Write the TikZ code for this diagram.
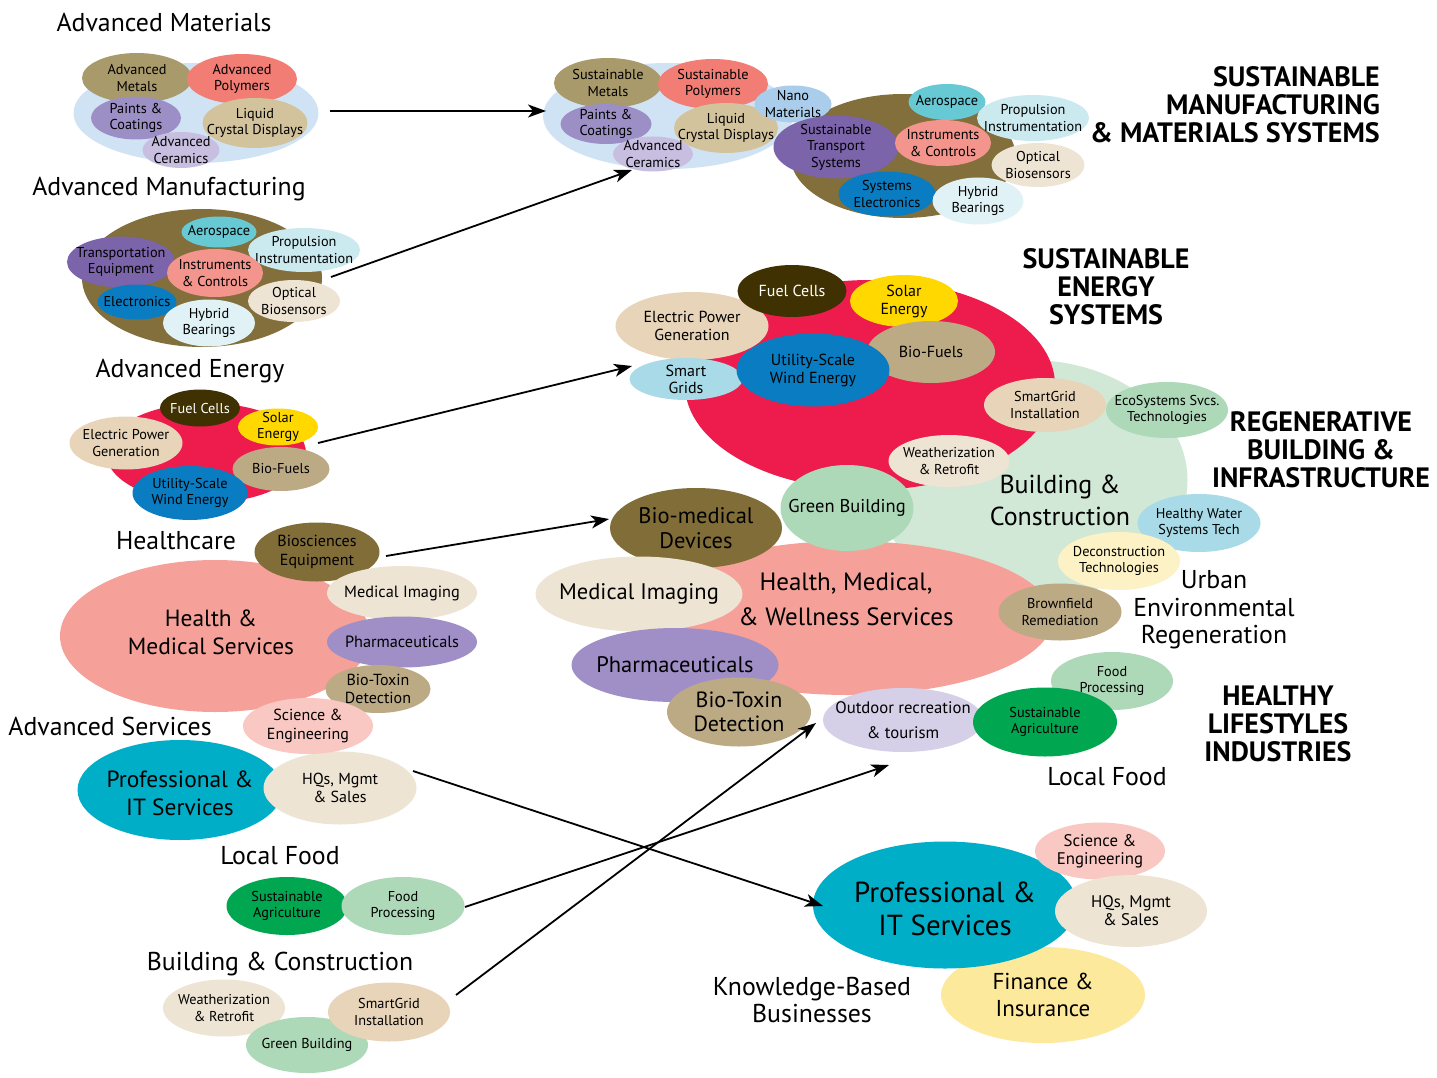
\documentclass[tikz,border=0pt]{standalone}
\usepackage{fontspec}
\setmainfont{PT Sans}
\usetikzlibrary{shapes.geometric,arrows.meta}
\definecolor{cBg}{HTML}{D0E3F4}
\definecolor{cKhaki}{HTML}{A99A6B}
\definecolor{cSalmon}{HTML}{F27D75}
\definecolor{cPurple}{HTML}{9C8FC5}
\definecolor{cTan}{HTML}{D2C39C}
\definecolor{cLPurple}{HTML}{C8BFE0}
\definecolor{cBrown}{HTML}{826F3B}
\definecolor{cTeal}{HTML}{66C9D4}
\definecolor{cPale}{HTML}{CBEAF0}
\definecolor{cViolet}{HTML}{7B64AA}
\definecolor{cPink}{HTML}{F3958D}
\definecolor{cBlue}{HTML}{0A7CC1}
\definecolor{cIce}{HTML}{E1F2F7}
\definecolor{cCream}{HTML}{EEE4D3}
\definecolor{cRed}{HTML}{EE1B4D}
\definecolor{cDark}{HTML}{3F3102}
\definecolor{cYellow}{HTML}{FFD800}
\definecolor{cBeige}{HTML}{E8D5B9}
\definecolor{cKhakiB}{HTML}{BCAA84}
\definecolor{cHealth}{HTML}{F5A098}
\definecolor{cOlive}{HTML}{816D38}
\definecolor{cPharma}{HTML}{9F8FC6}
\definecolor{cSci}{HTML}{F9C8C2}
\definecolor{cProf}{HTML}{00AEC7}
\definecolor{cGreen}{HTML}{00A650}
\definecolor{cLGreen}{HTML}{AED9B8}
\definecolor{cNano}{HTML}{A9CDEA}
\definecolor{cGBg}{HTML}{D1E8D6}
\definecolor{cSky}{HTML}{A8DBE7}
\definecolor{cLYellow}{HTML}{FDF2C5}
\definecolor{cLav}{HTML}{D5CFE7}
\definecolor{cFin}{HTML}{FDE99C}
\newcommand\fz[2]{\fontsize{#1}{#2}\selectfont}
\newcommand\fsA{\fz{14.3}{16.5}}
\newcommand\fsB{\fz{16}{18.5}}
\newcommand\fsC{\fz{16.3}{19}}
\newcommand\fsE{\fz{16}{18}}
\newcommand\fsG{\fz{18.5}{21}}
\newcommand\fsM{\fz{22.5}{24.5}}
\newcommand\fsH{\fz{23.4}{28}}
\newcommand\fsT{\fz{25.8}{30}}
\tikzset{
  bubble/.style={ellipse, inner sep=0pt, outer sep=0pt, draw=none},
  lbl/.style={align=center, text=black, inner sep=0pt},
  ttl/.style={align=center, inner sep=0pt, text=black},
  hdr/.style={align=center, inner sep=0pt, text=black, font=\fz{28}{28}\bfseries},
  arr/.style={line width=1.8pt, -{Stealth[length=18pt,width=13pt,inset=5pt]}},
}
% name, x, y, w, h, colour, label options, text
\newcommand\bub[8]{\node[bubble, fill=#6, minimum width=#4pt, minimum height=#5pt,
  label={[lbl,#7]center:{#8}}] (#1) at (#2,#3) {};}
\begin{document}
\begin{tikzpicture}[x=1pt,y=-1pt]
\useasboundingbox (0,0) rectangle (1437,1078);
\fill[white] (0,0) rectangle (1437,1078);

% ---------- Advanced Materials
\node[ttl,font=\fsT] (tAM) at (164,22) {Advanced Materials};
\bub{amatbg}{196}{113}{245}{100}{cBg}{font=\fsA}{}
\bub{amet}{137}{78}{110}{50}{cKhaki}{font=\fsA}{Advanced\\Metals}
\bub{apol}{242}{79}{110}{50}{cSalmon}{font=\fsA}{Advanced\\Polymers}
\bub{apai}{136}{118}{90}{43}{cPurple}{font=\fsA}{Paints \&\\Coatings}
\bub{alcd}{255}{123}{105}{50}{cTan}{font=\fsA}{Liquid\\Crystal Displays}
\bub{acer}{181}{150}{77}{36}{cLPurple}{font=\fsA}{Advanced\\Ceramics}

% ---------- Advanced Manufacturing
\node[ttl,font=\fsT] (tAMf) at (169,189) {Advanced Manufacturing};
\bub{amfbg}{202}{278}{240}{138}{cBrown}{font=\fsA}{}
\bub{aaer}{219}{232}{75}{31}{cTeal}{font=\fsA}{Aerospace}
\bub{apro}{304}{250}{112}{44}{cPale}{font=\fsA}{Propulsion\\Instrumentation}
\bub{atra}{121}{262}{108}{51}{cViolet}{font=\fsA}{Transportation\\Equipment}
\bub{ains}{215}{273}{96}{48}{cPink}{font=\fsA}{Instruments\\\& Controls}
\bub{aele}{137}{302}{79}{35}{cBlue}{font=\fsA}{Electronics}
\bub{ahyb}{209}{323}{92}{47}{cIce}{font=\fsA}{Hybrid\\Bearings}
\bub{aopt}{294}{301}{92}{42}{cCream}{font=\fsA}{Optical\\Biosensors}

% ---------- Advanced Energy
\node[ttl,font=\fsT] (tAE) at (190,371) {Advanced Energy};
\bub{ared}{206}{453}{200}{100}{cRed}{font=\fsA}{}
\bub{aepg}{126}{443}{113}{53}{cBeige}{font=\fsA}{Electric Power\\Generation}
\bub{afc}{200}{408}{80}{37}{cDark}{font=\fsA,text=white}{Fuel Cells}
\bub{asol}{278}{427}{80}{37}{cYellow}{font=\fsA}{Solar\\Energy}
\bub{abio}{281}{469}{97}{44}{cKhakiB}{font=\fsA}{Bio-Fuels}
\bub{awin}{190}{493}{115}{54}{cBlue}{font=\fsA}{Utility-Scale\\Wind Energy}

% ---------- Healthcare
\node[ttl,font=\fsT] (tHC) at (176,541) {Healthcare};
\bub{hms}{215}{636}{310}{152}{cHealth}{font=\fsH,xshift=-4pt,yshift=4pt}{Health \&\\Medical Services}
\bub{hbio}{317}{552}{125}{59}{cOlive}{font=\fsB}{Biosciences\\Equipment}
\bub{hmi}{402}{593}{150}{54}{cCream}{font=\fsC}{Medical Imaging}
\bub{hph}{402}{642}{150}{51}{cPharma}{font=\fsC}{Pharmaceuticals}
\bub{htox}{378}{689}{105}{48}{cKhakiB}{font=\fsB}{Bio-Toxin\\Detection}

% ---------- Advanced Services
\node[ttl,font=\fsT] (tAS) at (110,726) {Advanced Services};
\bub{apit}{180}{790}{205}{100}{cProf}{font=\fsH,yshift=-3pt}{Professional \&\\IT Services}
\bub{ahq}{340}{788}{153}{73}{cCream}{font=\fsB}{HQs, Mgmt\\\& Sales}
\bub{asci}{308}{726}{130}{56}{cSci}{font=\fsB}{Science \&\\Engineering}

% ---------- Local Food (left)
\node[ttl,font=\fsT] (tLF) at (280,856) {Local Food};
\bub{lag}{287}{906}{121}{58}{cGreen}{font=\fsA}{Sustainable\\Agriculture}
\bub{lfp}{403}{906}{123}{58}{cLGreen}{font=\fsA}{Food\\Processing}

% ---------- Building & Construction (left)
\node[ttl,font=\fsT] (tBC) at (280,964) {Building \& Construction};
\bub{bwe}{224}{1008}{122}{57}{cCream}{font=\fsA}{Weatherization\\\& Retrofit}
\bub{bgb}{307}{1045}{122}{56}{cLGreen}{font=\fsA}{Green Building}
\bub{bsg}{389}{1012}{122}{59}{cBeige}{font=\fsA}{SmartGrid\\Installation}

% ---------- Sustainable manufacturing (right)
\bub{smbg}{668}{116}{250}{106}{cBg}{font=\fsA}{}
\bub{smet}{608}{83}{108}{50}{cKhaki}{font=\fsA}{Sustainable\\Metals}
\bub{spol}{713}{84}{110}{50}{cSalmon}{font=\fsA}{Sustainable\\Polymers}
\bub{spai}{606}{124}{91}{40}{cPurple}{font=\fsA}{Paints \&\\Coatings}
\bub{slcd}{726}{128}{104}{50}{cTan}{font=\fsA}{Liquid\\Crystal Displays}
\bub{scer}{653}{154}{80}{35}{cLPurple}{font=\fsA}{Advanced\\Ceramics}
\bub{sbr}{903}{156}{225}{124}{cBrown}{font=\fsA}{}
\bub{snan}{793}{104}{77}{37}{cNano}{font=\fsA}{Nano\\Materials}
\bub{saer}{947}{102}{77}{36}{cTeal}{font=\fsA}{Aerospace}
\bub{spro}{1033}{118}{112}{46}{cPale}{font=\fsA}{Propulsion\\Instrumentation}
\bub{stra}{836}{147}{125}{63}{cViolet}{font=\fsA}{Sustainable\\Transport\\Systems}
\bub{sins}{943}{143}{96}{46}{cPink}{font=\fsA}{Instruments\\\& Controls}
\bub{sopt}{1038}{165}{93}{44}{cCream}{font=\fsA}{Optical\\Biosensors}
\bub{sele}{887}{194}{97}{45}{cBlue}{font=\fsA}{Systems\\Electronics}
\bub{shyb}{978}{201}{91}{47}{cIce}{font=\fsA}{Hybrid\\Bearings}
\node[hdr, align=right, anchor=east] (hSM) at (1380,105) {SUSTAINABLE\\MANUFACTURING\\\& MATERIALS SYSTEMS};

% ---------- Energy / Building / Health (right)
\bub{bcbg}{1030}{480}{315}{240}{cGBg}{font=\fsA}{}
\bub{ered}{870}{385}{370}{210}{cRed}{font=\fsA}{}
\bub{eepg}{692}{326}{153}{68}{cBeige}{font=\fsE}{Electric Power\\Generation}
\bub{efc}{792}{291}{109}{52}{cDark}{font=\fsE,text=white}{Fuel Cells}
\bub{esol}{904}{301}{108}{52}{cYellow}{font=\fsE}{Solar\\Energy}
\bub{ebio}{931}{352}{128}{62}{cKhakiB}{font=\fsE}{Bio-Fuels}
\bub{esg}{686}{379}{113}{42}{cSky}{font=\fz{16}{17}}{Smart\\Grids}
\bub{ewin}{813}{370}{153}{73}{cBlue}{font=\fsE}{Utility-Scale\\Wind Energy}
\node[hdr] (hSE) at (1106,287) {SUSTAINABLE\\ENERGY\\SYSTEMS};

\bub{hwell}{848}{618}{410}{154}{cHealth}{font=\fsA}{}
\node[ttl,font=\fz{25}{35}] (tHW) at (846,599) {Health, Medical,\\\& Wellness Services};
\bub{rgb}{847}{508}{133}{86}{cLGreen}{font=\fsG}{Green Building}
\bub{rwe}{949}{461}{121}{52}{cCream}{font=\fsA}{Weatherization\\\& Retrofit}
\bub{rsgi}{1045}{405}{122}{54}{cBeige}{font=\fsA}{SmartGrid\\Installation}
\bub{reco}{1167}{410}{122}{56}{cLGreen}{font=\fsA}{EcoSystems Svcs.\\Technologies}
\node[ttl,font=\fz{26}{32}] (tBCr) at (1060,500) {Building \&\\Construction};
\bub{rhw}{1199}{523}{123}{58}{cSky}{font=\fsA}{Healthy Water\\Systems Tech}
\bub{rdec}{1119}{561}{122}{58}{cLYellow}{font=\fsA}{Deconstruction\\Technologies}
\bub{rbf}{1060}{612}{123}{57}{cKhakiB}{font=\fsA}{Brownfield\\Remediation}
\node[ttl,font=\fz{25.8}{27.5}] (tUER) at (1214,610) {Urban\\Environmental\\Regeneration};
\node[hdr] (hRB) at (1321,450) {REGENERATIVE\\BUILDING \&\\INFRASTRUCTURE};

\bub{rbm}{696}{528}{172}{80}{cOlive}{font=\fsM}{Bio-medical\\Devices}
\bub{rmi}{639}{594}{207}{75}{cCream}{font=\fsM}{Medical Imaging}
\bub{rph}{675}{665}{207}{74}{cPharma}{font=\fsM}{Pharmaceuticals}
\bub{rtox}{739}{712}{144}{69}{cKhakiB}{font=\fz{22}{23.5}}{Bio-Toxin\\Detection}
\bub{rout}{903}{720}{160}{64}{cLav}{font=\fz{16.7}{25}}{Outdoor recreation\\\& tourism}
\bub{rfp}{1112}{681}{122}{58}{cLGreen}{font=\fsA}{Food\\Processing}
\bub{rag}{1045}{722}{144}{69}{cGreen}{font=\fsA}{Sustainable\\Agriculture}
\node[ttl,font=\fsT] (tLFr) at (1107,777) {Local Food};
\node[hdr] (hHL) at (1278,724) {HEALTHY\\LIFESTYLES\\INDUSTRIES};

% ---------- Knowledge-based (right)
\bub{kfin}{1043}{995}{204}{96}{cFin}{font=\fz{23}{27}}{Finance \&\\Insurance}
\bub{kpro}{945}{905}{264}{127}{cProf}{font=\fz{29}{33},yshift=-4pt}{Professional \&\\IT Services}
\bub{ksci}{1100}{851}{130}{57}{cSci}{font=\fz{16.8}{18}}{Science \&\\Engineering}
\bub{khq}{1131}{911}{152}{72}{cCream}{font=\fz{16.8}{18}}{HQs, Mgmt\\\& Sales}
\node[ttl,font=\fz{25.8}{27}] (tKB) at (812,1000) {Knowledge-Based\\Businesses};

% ---------- arrows
\coordinate (a1s) at (330,111); \coordinate (a1e) at (546,111);
\coordinate (a2s) at (331,277); \coordinate (a2e) at (632,170);
\coordinate (a3s) at (318,443); \coordinate (a3e) at (632,366);
\coordinate (a4s) at (386,556); \coordinate (a4e) at (609,519);
\coordinate (a5s) at (413,771); \coordinate (a5e) at (823,906);
\coordinate (a6s) at (465,907); \coordinate (a6e) at (889,765);
\coordinate (a7s) at (456,995); \coordinate (a7e) at (816,723);
\draw[arr] (a1s) -- (a1e);
\draw[arr] (a2s) -- (a2e);
\draw[arr] (a3s) -- (a3e);
\draw[arr] (a4s) -- (a4e);
\draw[arr] (a5s) -- (a5e);
\draw[arr] (a6s) -- (a6e);
\draw[arr] (a7s) -- (a7e);
\end{tikzpicture}
\end{document}
